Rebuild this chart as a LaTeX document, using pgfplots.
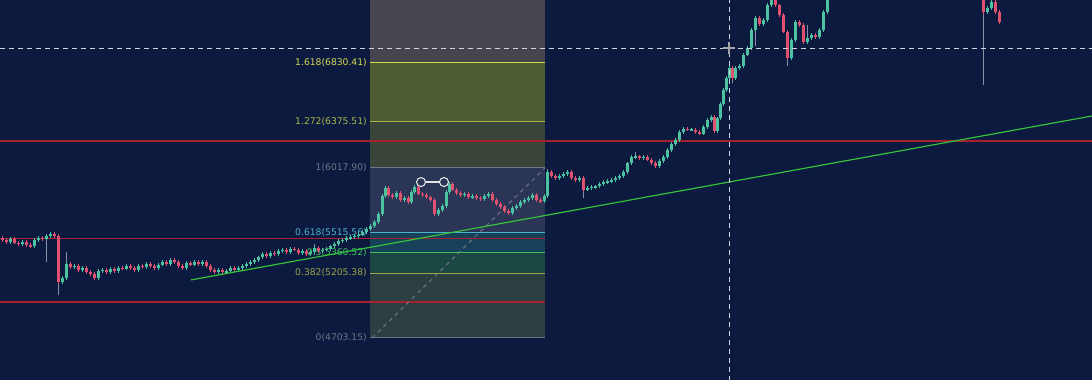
\documentclass[border=0pt]{standalone}
\usepackage{pgfplots}
\pgfplotsset{compat=1.18}
\usepackage{pgfplotstable}
\usepackage{fontspec}
\setmainfont{DejaVu Sans}
\definecolor{bg}{HTML}{0C1A40}
\definecolor{zA}{HTML}{47454D}
\definecolor{zB}{HTML}{4E5C31}
\definecolor{zC}{HTML}{3A4539}
\definecolor{zD}{HTML}{2B3556}
\definecolor{zE}{HTML}{17405A}
\definecolor{zF}{HTML}{1B4743}
\definecolor{zG}{HTML}{2B3F40}
\definecolor{lA}{HTML}{D4DA4E}
\definecolor{lB}{HTML}{A8B648}
\definecolor{lC}{HTML}{6E7789}
\definecolor{lD}{HTML}{4DB3C9}
\definecolor{lE}{HTML}{3FBF5A}
\definecolor{lF}{HTML}{9AA648}
\definecolor{lG}{HTML}{6B7585}
\definecolor{upc}{HTML}{4CC3A0}
\definecolor{dnc}{HTML}{E0506F}
\definecolor{redline}{HTML}{A81F30}
\definecolor{trend}{HTML}{33C23A}
\definecolor{wick}{HTML}{8A8FA8}
\definecolor{cross}{HTML}{D0D4DE}
\tikzset{fl/.style={anchor=east, inner sep=0pt, font=\fontsize{9.2}{10}\selectfont}}

\pgfplotstableread{
x o c
2 5476 5461
6 5461 5445
10 5445 5469
14 5469 5438
18 5438 5430
22 5430 5445
26 5445 5422
30 5422 5414
34 5414 5461
38 5461 5476
42 5476 5469
46 5469 5492
50 5492 5507
54 5507 5492
58 5492 5136
62 5136 5167
66 5167 5275
70 5275 5252
74 5252 5260
78 5260 5229
82 5229 5244
86 5244 5213
90 5213 5198
94 5198 5167
98 5167 5221
102 5221 5229
106 5229 5213
110 5213 5237
114 5237 5221
118 5221 5244
122 5244 5237
126 5237 5260
130 5260 5244
134 5244 5229
138 5229 5260
142 5260 5252
146 5252 5275
150 5275 5260
154 5260 5244
158 5244 5268
162 5268 5291
166 5291 5275
170 5275 5306
174 5306 5291
178 5291 5260
182 5260 5244
186 5244 5283
190 5283 5268
194 5268 5291
198 5291 5275
202 5275 5291
206 5291 5260
210 5260 5229
214 5229 5213
218 5213 5229
222 5229 5213
226 5213 5221
230 5221 5244
234 5244 5229
238 5229 5244
242 5244 5260
246 5260 5275
250 5275 5291
254 5291 5306
258 5306 5329
262 5329 5353
266 5353 5337
270 5337 5360
274 5360 5353
278 5353 5376
282 5376 5384
286 5384 5368
290 5368 5391
294 5391 5384
298 5384 5360
302 5360 5376
306 5376 5353
310 5353 5368
314 5368 5399
318 5399 5376
322 5376 5384
326 5384 5391
330 5391 5414
334 5414 5430
338 5430 5453
342 5453 5461
346 5461 5476
350 5476 5484
354 5484 5492
358 5492 5500
362 5500 5523
366 5523 5546
370 5546 5569
374 5569 5600
378 5600 5662
382 5662 5801
385 5801 5863
388 5863 5809
392 5809 5793
396 5793 5824
400 5824 5770
404 5770 5786
408 5786 5755
411 5755 5832
414 5832 5871
418 5871 5817
422 5817 5809
426 5809 5793
430 5793 5770
434 5770 5662
438 5662 5693
442 5693 5724
446 5724 5832
449 5832 5894
452 5894 5848
456 5848 5824
460 5824 5809
464 5809 5817
468 5817 5793
472 5793 5801
476 5801 5786
480 5786 5778
484 5778 5801
488 5801 5817
492 5817 5770
496 5770 5739
500 5739 5716
504 5716 5685
508 5685 5670
512 5670 5708
516 5708 5724
520 5724 5755
524 5755 5770
528 5770 5786
532 5786 5809
536 5809 5770
540 5770 5762
544 5762 5801
547 5801 5987
551 5987 5956
555 5956 5940
559 5940 5956
563 5956 5971
567 5971 5987
571 5987 5940
575 5940 5925
579 5925 5940
583 5940 5848
587 5848 5863
591 5863 5871
595 5871 5878
599 5878 5894
603 5894 5909
607 5909 5917
611 5917 5925
615 5925 5940
619 5940 5956
623 5956 5987
627 5987 6056
631 6056 6103
635 6103 6110
639 6110 6095
643 6095 6103
647 6103 6080
651 6080 6056
655 6056 6033
659 6033 6072
663 6072 6103
667 6103 6157
671 6157 6203
675 6203 6234
679 6234 6296
683 6296 6319
687 6319 6312
691 6312 6315
695 6315 6296
699 6296 6281
703 6281 6335
707 6335 6389
711 6389 6412
714 6412 6304
717 6304 6404
720 6404 6513
723 6513 6621
726 6621 6714
729 6714 6791
732 6791 6714
735 6714 6791
739 6791 6807
743 6807 6892
747 6892 6946
751 6946 7085
755 7085 7178
759 7178 7131
763 7131 7162
767 7162 7278
771 7278 7394
775 7394 7278
779 7278 7201
783 7201 7070
787 7070 6868
791 6868 7008
795 7008 7147
799 7147 7124
803 7124 6992
807 6992 7023
811 7023 7046
815 7046 7031
819 7031 7085
823 7085 7224
827 7224 7356
831 7356 7510
983 7394 7224
987 7224 7255
991 7255 7302
995 7302 7224
999 7224 7147
}\candles

\pgfplotstableread{
x h l
46 5500 5291
58 5500 5036
66 5368 5167
314 5430 5368
385 5878 5801
449 5902 5832
547 6010 5801
583 5940 5786
635 6141 6103
732 6791 6675
755 7178 6960
787 7070 6807
807 7124 6992
983 7394 6660
}\wicks

\begin{document}
\begin{tikzpicture}
\begin{axis}[width=1092pt, height=380pt, scale only axis,
  xmin=0, xmax=1092, ymin=4378, ymax=7317,
  axis line style={draw=none}, ticks=none,
  axis background/.style={fill=bg}, clip=true]

% Fibonacci zones
\addplot[draw=none, fill=zA] coordinates {(370,6830.41) (545,6830.41) (545,7400) (370,7400)} --cycle;
\addplot[draw=none, fill=zB] coordinates {(370,6375.51) (545,6375.51) (545,6830.41) (370,6830.41)} --cycle;
\addplot[draw=none, fill=zC] coordinates {(370,6017.90) (545,6017.90) (545,6375.51) (370,6375.51)} --cycle;
\addplot[draw=none, fill=zD] coordinates {(370,5515.56) (545,5515.56) (545,6017.90) (370,6017.90)} --cycle;
\addplot[draw=none, fill=zE] coordinates {(370,5360.52) (545,5360.52) (545,5515.56) (370,5515.56)} --cycle;
\addplot[draw=none, fill=zF] coordinates {(370,5205.38) (545,5205.38) (545,5360.52) (370,5360.52)} --cycle;
\addplot[draw=none, fill=zG] coordinates {(370,4703.15) (545,4703.15) (545,5205.38) (370,5205.38)} --cycle;

% red horizontal lines
\addplot[redline, line width=1.6pt] coordinates {(0,6226) (1092,6226)};
\addplot[redline, line width=1.6pt] coordinates {(0,5472) (545,5472)};
\addplot[redline, line width=1.6pt] coordinates {(0,4981) (545,4981)};

% labels
\node[fl, text=lA] at (axis cs:367,6830.41) {1.618(6830.41)};
\node[fl, text=lB] at (axis cs:367,6375.51) {1.272(6375.51)};
\node[fl, text=lC] at (axis cs:367,6017.90) {1(6017.90)};
\node[fl, text=lD] at (axis cs:367,5515.56) {0.618(5515.56)};
\node[fl, text=lE] at (axis cs:367,5360.52) {0.5(5360.52)};
\node[fl, text=lF] at (axis cs:367,5205.38) {0.382(5205.38)};
\node[fl, text=lG] at (axis cs:367,4703.15) {0(4703.15)};

% diagonal
\addplot[color=lC, line width=1pt, dash pattern=on 4pt off 4pt] coordinates {(372,4703.15) (545,6017.90)};

% level lines
\addplot[lA, line width=1pt] coordinates {(370,6830.41) (545,6830.41)};
\addplot[lB, line width=1pt] coordinates {(370,6375.51) (545,6375.51)};
\addplot[lC, line width=1pt] coordinates {(370,6017.90) (545,6017.90)};
\addplot[lD, line width=1pt] coordinates {(370,5515.56) (545,5515.56)};
\addplot[lE, line width=1pt] coordinates {(370,5360.52) (545,5360.52)};
\addplot[lF, line width=1pt] coordinates {(370,5205.38) (545,5205.38)};
\addplot[lG, line width=1pt] coordinates {(370,4703.15) (545,4703.15)};

% long wicks
\addplot[draw=none, mark=none,
  error bars/.cd, y dir=both, y explicit, error mark=none,
  error bar style={line width=0.8pt, draw=wick}]
  table[x=x, y expr={(\thisrow{h}+\thisrow{l})/2}, y error expr={(\thisrow{h}-\thisrow{l})/2}] {\wicks};

% short wicks of every candle
\addplot[draw=none, mark=none,
  restrict expr to domain={\thisrow{c}-\thisrow{o}}{0:100000},
  error bars/.cd, y dir=both, y explicit, error mark=none,
  error bar style={line width=0.8pt, draw=upc}]
  table[x=x, y expr={(\thisrow{o}+\thisrow{c})/2}, y error expr={abs(\thisrow{c}-\thisrow{o})/2+12}] {\candles};
\addplot[draw=none, mark=none,
  restrict expr to domain={\thisrow{c}-\thisrow{o}}{-100000:-0.5},
  error bars/.cd, y dir=both, y explicit, error mark=none,
  error bar style={line width=0.8pt, draw=dnc}]
  table[x=x, y expr={(\thisrow{o}+\thisrow{c})/2}, y error expr={abs(\thisrow{c}-\thisrow{o})/2+12}] {\candles};

% up candle bodies
\addplot[draw=none, mark=none,
  restrict expr to domain={\thisrow{c}-\thisrow{o}}{0:100000},
  error bars/.cd, y dir=both, y explicit, error mark=none,
  error bar style={line width=3pt, draw=upc}]
  table[x=x, y expr={(\thisrow{o}+\thisrow{c})/2}, y error expr={max(abs(\thisrow{c}-\thisrow{o})/2,7)}] {\candles};

% down candle bodies
\addplot[draw=none, mark=none,
  restrict expr to domain={\thisrow{c}-\thisrow{o}}{-100000:-0.5},
  error bars/.cd, y dir=both, y explicit, error mark=none,
  error bar style={line width=3pt, draw=dnc}]
  table[x=x, y expr={(\thisrow{o}+\thisrow{c})/2}, y error expr={max(abs(\thisrow{c}-\thisrow{o})/2,7)}] {\candles};

% trend line
\addplot[trend, line width=1.2pt] coordinates {(191,5152) (1092,6420)};

% crosshair
\addplot[cross, line width=0.9pt, dash pattern=on 5pt off 4pt] coordinates {(0,6942) (1092,6942)};
\addplot[cross, line width=0.9pt, dash pattern=on 5pt off 4pt] coordinates {(729,4300) (729,7400)};
\addplot[only marks, mark=+, mark size=6pt, mark options={line width=2pt, draw=gray!70}] coordinates {(729,6942)};

% handles
\addplot[white!80!gray, line width=1.2pt] coordinates {(425,5909) (440,5909)};
\addplot[only marks, mark=*, mark size=4.5pt, mark options={draw=white!85!gray, fill=zD, line width=1pt}] coordinates {(421,5909) (444,5909)};

\end{axis}
\end{tikzpicture}
\end{document}
